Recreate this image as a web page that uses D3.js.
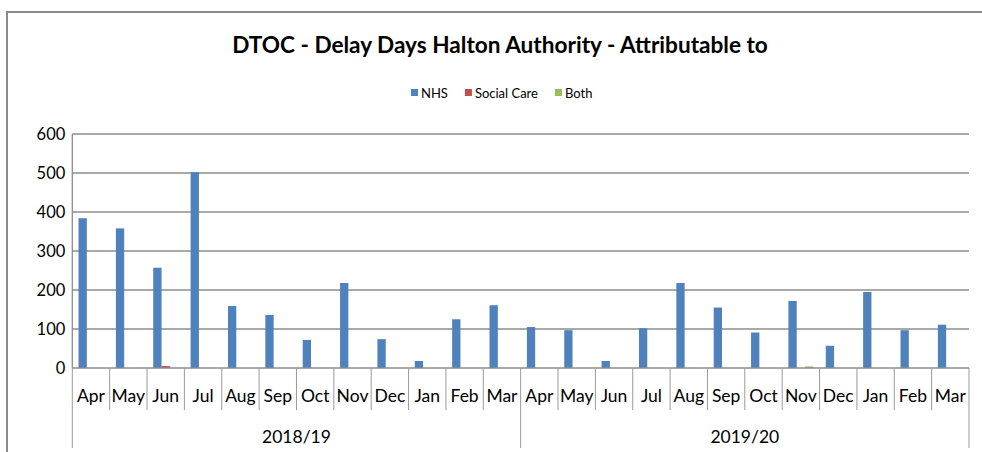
<!DOCTYPE html>
<html>
<head>
<meta charset="utf-8">
<script src="https://cdn.jsdelivr.net/npm/d3@7"></script>
<style>
  html, body { margin: 0; padding: 0; background: #fff; }
  svg { display: block; }
  text { font-family: Lato, "Open Sans", "Liberation Sans", sans-serif; fill: #000; }
</style>
</head>
<body>
<svg id="chart" width="982" height="452"></svg>
<script>
// Delayed transfers of care: delay days per month, by responsible organisation
const months = ["Apr", "May", "Jun", "Jul", "Aug", "Sep", "Oct", "Nov", "Dec", "Jan", "Feb", "Mar"];
const years = ["2018/19", "2019/20"];
const seriesNames = ["NHS", "Social Care", "Both"];
const nhs        = [384, 358, 257, 502, 159, 136, 72, 218, 74, 18, 125, 161,
                    105, 97, 18, 102, 218, 155, 91, 172, 57, 195, 97, 111];
const socialCare = [0, 0, 5, 0, 0, 0, 0, 0, 0, 0, 0, 0,
                    0, 0, 0, 0, 0, 0, 0, 0, 0, 0, 0, 0];
const both       = [0, 0, 0, 0, 0, 0, 0, 0, 0, 0, 0, 0,
                    0, 0, 0, 0, 0, 0, 0, 4, 0, 0, 0, 0];
const yTicks = [0, 100, 200, 300, 400, 500, 600];
const colors = ["#4F81BD", "#C0504D", "#9BBB59"];

const values = [nhs, socialCare, both];
const cats = years.flatMap((yr, yi) => months.map((m, mi) => ({ key: yi * 12 + mi, month: m, year: yr })));

const svg = d3.select("#chart");
const plotLeft = 72.3, plotRight = 969, plotTop = 134, plotBottom = 368;

// Outer chart frame
svg.append("path")
  .attr("d", "M7,452 V12 H982")
  .attr("fill", "none").attr("stroke", "#8a8a8a").attr("stroke-width", 2);

const x = d3.scaleBand().domain(cats.map(c => c.key)).range([plotLeft, plotRight]).padding(0);
const xs = d3.scaleBand().domain(seriesNames).range([0, x.bandwidth()])
  .paddingInner(0).paddingOuter(0.75);
const y = d3.scaleLinear().domain([0, 600]).range([plotBottom, plotTop]);

// Horizontal gridlines
svg.append("g").selectAll("line").data(yTicks.filter(t => t > 0)).join("line")
  .attr("x1", plotLeft).attr("x2", plotRight)
  .attr("y1", d => y(d)).attr("y2", d => y(d))
  .attr("stroke", "#8c8c8c").attr("stroke-width", 1.3);

// Y axis labels
const yAxis = svg.append("g").attr("transform", `translate(${plotLeft},0)`)
  .call(d3.axisLeft(y).tickValues(yTicks).tickSize(0).tickPadding(7));
yAxis.select(".domain").remove();
yAxis.selectAll("text").attr("font-size", 16.5).attr("font-family", "Lato, sans-serif").attr("fill", "#000");

// Bars
seriesNames.forEach((s, si) => {
  svg.append("g").attr("fill", colors[si])
    .selectAll("rect").data(cats.filter(c => values[si][c.key] > 0)).join("rect")
    .attr("x", c => x(c.key) + xs(s))
    .attr("width", xs.bandwidth())
    .attr("y", c => y(values[si][c.key]))
    .attr("height", c => y(0) - y(values[si][c.key]));
});

// Axis lines
svg.append("line").attr("x1", plotLeft).attr("x2", plotLeft).attr("y1", plotTop).attr("y2", plotBottom)
  .attr("stroke", "#8c8c8c").attr("stroke-width", 1.3);
svg.append("line").attr("x1", plotLeft).attr("x2", plotRight).attr("y1", plotBottom).attr("y2", plotBottom)
  .attr("stroke", "#8c8c8c").attr("stroke-width", 1.3);

// Category separators: short for months, long at year boundaries
const bounds = d3.range(cats.length + 1);
svg.append("g").selectAll("line").data(bounds).join("line")
  .attr("x1", i => plotLeft + i * x.step()).attr("x2", i => plotLeft + i * x.step())
  .attr("y1", plotBottom)
  .attr("y2", i => i % 12 === 0 ? 448 : 410)
  .attr("stroke", "#9a9a9a").attr("stroke-width", 1);

// Month labels
svg.append("g").selectAll("text").data(cats).join("text")
  .attr("x", c => x(c.key) + x.bandwidth() / 2)
  .attr("y", 402)
  .attr("text-anchor", "middle")
  .attr("font-size", 17.5)
  .text(c => c.month);

// Year labels
svg.append("g").selectAll("text").data(years).join("text")
  .attr("x", (yr, i) => plotLeft + (i * 12 + 6) * x.step())
  .attr("y", 443)
  .attr("text-anchor", "middle")
  .attr("font-size", 17.5)
  .text(d => d);

// Title
const title = svg.append("text")
  .attr("x", 500).attr("y", 53)
  .attr("text-anchor", "middle")
  .attr("font-size", 20).attr("font-weight", "bold")
  .text("DTOC - Delay Days Halton Authority - Attributable to");
const tw = title.node().getComputedTextLength();
title.attr("font-size", 20 * 536 / tw);

// Legend
const legend = svg.append("g");
let lx = 411;
seriesNames.forEach((s, si) => {
  legend.append("rect").attr("x", lx).attr("y", 89).attr("width", 7).attr("height", 7).attr("fill", colors[si]);
  const t = legend.append("text").attr("x", lx + 10).attr("y", 97.5)
    .attr("font-size", 13).text(s);
  lx += 10 + t.node().getComputedTextLength() + 17;
});
</script>
</body>
</html>
